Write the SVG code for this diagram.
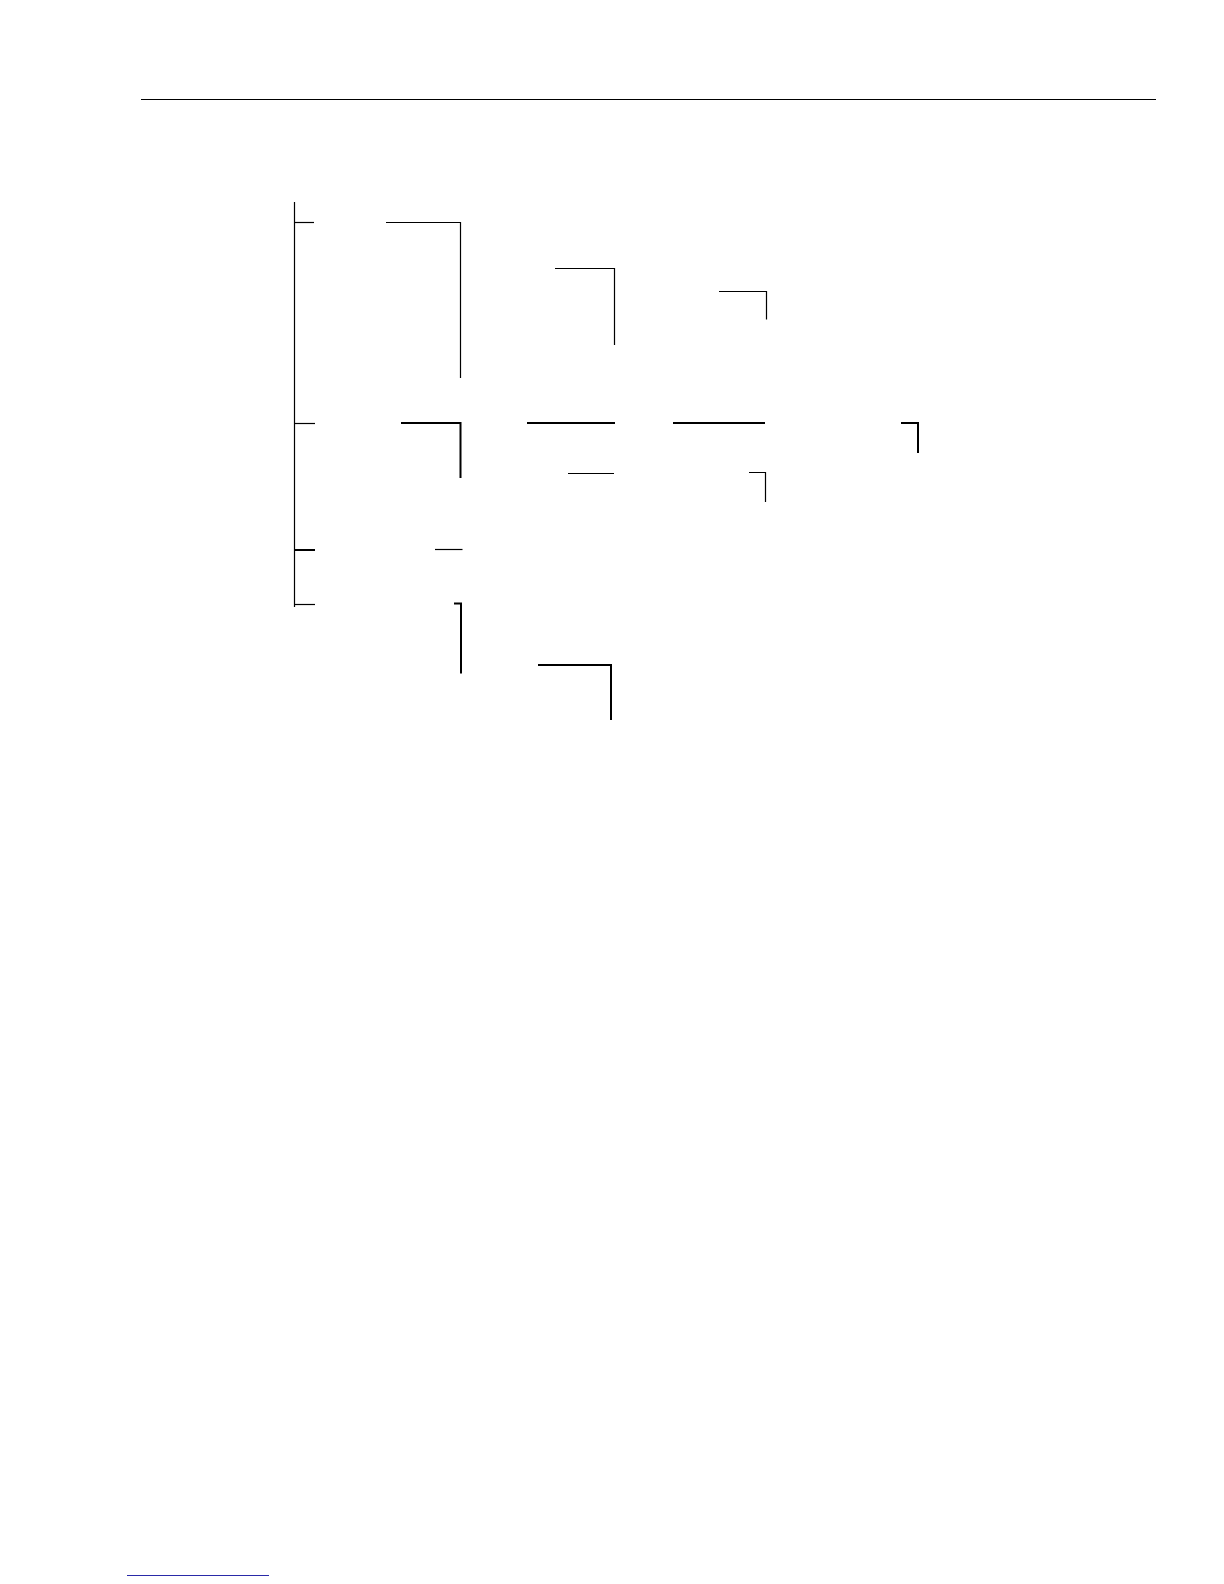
<svg xmlns="http://www.w3.org/2000/svg" width="1224" height="1584" viewBox="0 0 1224 1584">
<style>
.l{fill:none;stroke:#000;stroke-width:1.2}
.t{fill:none;stroke:#000;stroke-width:2}
</style>
<rect width="1224" height="1584" fill="#fff"/>
<g id="page-rule">
<line class="l" x1="141" y1="99.5" x2="1156" y2="99.5"/>
</g>
<g id="connectors">
<line class="l" x1="294.5" y1="202" x2="294.5" y2="607"/>
<line class="l" x1="294" y1="222.5" x2="314" y2="222.5"/>
<line class="l" x1="295" y1="423.5" x2="315" y2="423.5"/>
<line class="t" x1="295" y1="550" x2="315" y2="550"/>
<line class="l" x1="295" y1="604.5" x2="315" y2="604.5"/>
<polyline class="l" points="386,222.5 460.5,222.5 460.5,378"/>
<polyline class="l" points="555,268.5 614.5,268.5 614.5,345"/>
<polyline class="l" points="719,291.5 766.5,291.5 766.5,319.5"/>
<polyline class="t" points="401,423 460.5,423 460.5,478"/>
<line class="t" x1="527" y1="423" x2="615" y2="423"/>
<line class="t" x1="673" y1="423" x2="765" y2="423"/>
<polyline class="t" points="901,423 918,423 918,453"/>
<line class="l" x1="568" y1="473.5" x2="614" y2="473.5"/>
<polyline class="l" points="749,472.5 765.5,472.5 765.5,502"/>
<line class="l" x1="435" y1="549.5" x2="462.5" y2="549.5"/>
<polyline class="t" points="454,603.5 461,603.5 461,673.5"/>
<polyline class="t" points="538,665 611,665 611,720"/>
</g>
<g id="footer-rule">
<line x1="127" y1="1575.5" x2="269" y2="1575.5" stroke="#2a2aa8" stroke-width="1.2"/>
</g>
</svg>
